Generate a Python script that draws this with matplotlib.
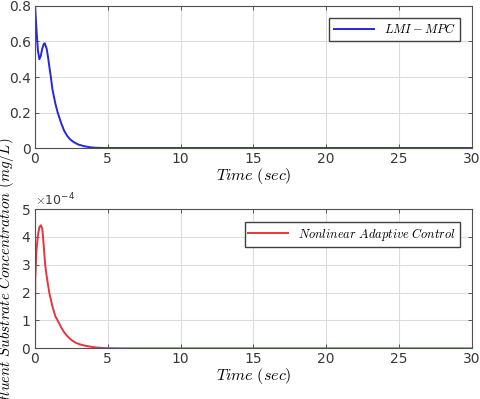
import numpy as np
import matplotlib
matplotlib.use("Agg")
import matplotlib.pyplot as plt
from matplotlib.ticker import ScalarFormatter

plt.rcParams['mathtext.fontset'] = 'cm'
plt.rcParams['font.family'] = 'DejaVu Sans'

# LMI-MPC response (mg/L)
t_mpc = [0, 0.005, 0.1, 0.2, 0.3, 0.4, 0.5, 0.6, 0.67, 0.8, 0.9, 1.0, 1.09, 1.2, 1.3,
         1.4, 1.56, 1.8, 2.0, 2.2, 2.4, 2.6, 2.8, 3.0, 3.4, 3.8, 4.2, 4.6, 5.0, 30]
y_mpc = [0, 0.8, 0.67, 0.55, 0.50, 0.52, 0.56, 0.585, 0.59, 0.56, 0.51, 0.45, 0.40, 0.33, 0.29,
         0.25, 0.20, 0.14, 0.098, 0.07, 0.05, 0.037, 0.027, 0.019, 0.01, 0.004, 0.0015, 0.0005, 0, 0]

# nonlinear adaptive control response
t_nac = [0, 0.02, 0.1, 0.2, 0.3, 0.4, 0.5, 0.6, 0.7, 0.8, 0.98, 1.2, 1.4, 1.56, 1.8, 2.0,
         2.2, 2.5, 2.8, 3.1, 3.4, 3.8, 4.2, 4.6, 5.0, 6.0, 30]
y_nac = [0, 2.5e-4, 3.5e-4, 4.05e-4, 4.35e-4, 4.42e-4, 4.3e-4, 3.7e-4, 3.0e-4, 2.6e-4, 2.0e-4,
         1.5e-4, 1.15e-4, 1.0e-4, 0.75e-4, 0.58e-4, 0.45e-4, 0.3e-4, 0.2e-4, 0.14e-4, 0.1e-4,
         0.06e-4, 0.03e-4, 0.015e-4, 0.005e-4, 0, 0]

x_ticks = [0, 5, 10, 15, 20, 25, 30]
y1_ticks = [0, 0.2, 0.4, 0.6, 0.8]
y1_labels = ['0', '0.2', '0.4', '0.6', '0.8']

fig = plt.figure(figsize=(4.8, 3.99), dpi=100)
ax1 = fig.add_axes([0.0729, 0.629, 0.910, 0.356])
ax2 = fig.add_axes([0.0729, 0.127, 0.910, 0.349])

def style(ax):
    ax.set_xlim(0, 30)
    ax.set_xticks(x_ticks)
    ax.grid(True, color='#dcdcdc', linewidth=0.8)
    ax.set_axisbelow(True)
    ax.tick_params(direction='in', top=True, right=True, length=3, width=0.6,
                   labelsize=10, colors='#404040', labelcolor='#383838', pad=3)
    for s in ax.spines.values():
        s.set_color('#505050')
        s.set_linewidth(0.8)
    ax.set_xlabel(r'$Time\ (sec)$', fontsize=11.5, labelpad=0)

ax1.plot(t_mpc, y_mpc, color='#2626e8', linewidth=1.4, label=r'$LMI-MPC$')
ax1.set_ylim(0, 0.8)
ax1.set_yticks(y1_ticks)
ax1.set_yticklabels(y1_labels)
style(ax1)
ax1.legend(loc='upper right', fontsize=9, fancybox=False, edgecolor='#404040',
           framealpha=1, handlelength=3.2, borderpad=0.35, borderaxespad=0,
           bbox_to_anchor=(0.973, 0.915))

ax2.plot(t_nac, y_nac, color='#e8343f', linewidth=1.4, label=r'$Nonlinear\ Adaptive\ Control$')
ax2.set_ylim(0, 5e-4)
fmt = ScalarFormatter(useMathText=True)
fmt.set_powerlimits((-3, 3))
ax2.yaxis.set_major_formatter(fmt)
ax2.yaxis.get_offset_text().set_fontsize(9)
ax2.yaxis.get_offset_text().set_color('#383838')
style(ax2)
ax2.legend(loc='upper right', fontsize=9, fancybox=False, edgecolor='#404040',
           framealpha=1, handlelength=3.2, borderpad=0.3, borderaxespad=0,
           bbox_to_anchor=(0.973, 0.907))

fig.text(0.012, 0.30, r'$Effluent\ Substrate\ Concentration\ (mg/L)$', rotation=90,
         fontsize=10.8, ha='center', va='center')

fig.savefig('out.png', dpi=100)
